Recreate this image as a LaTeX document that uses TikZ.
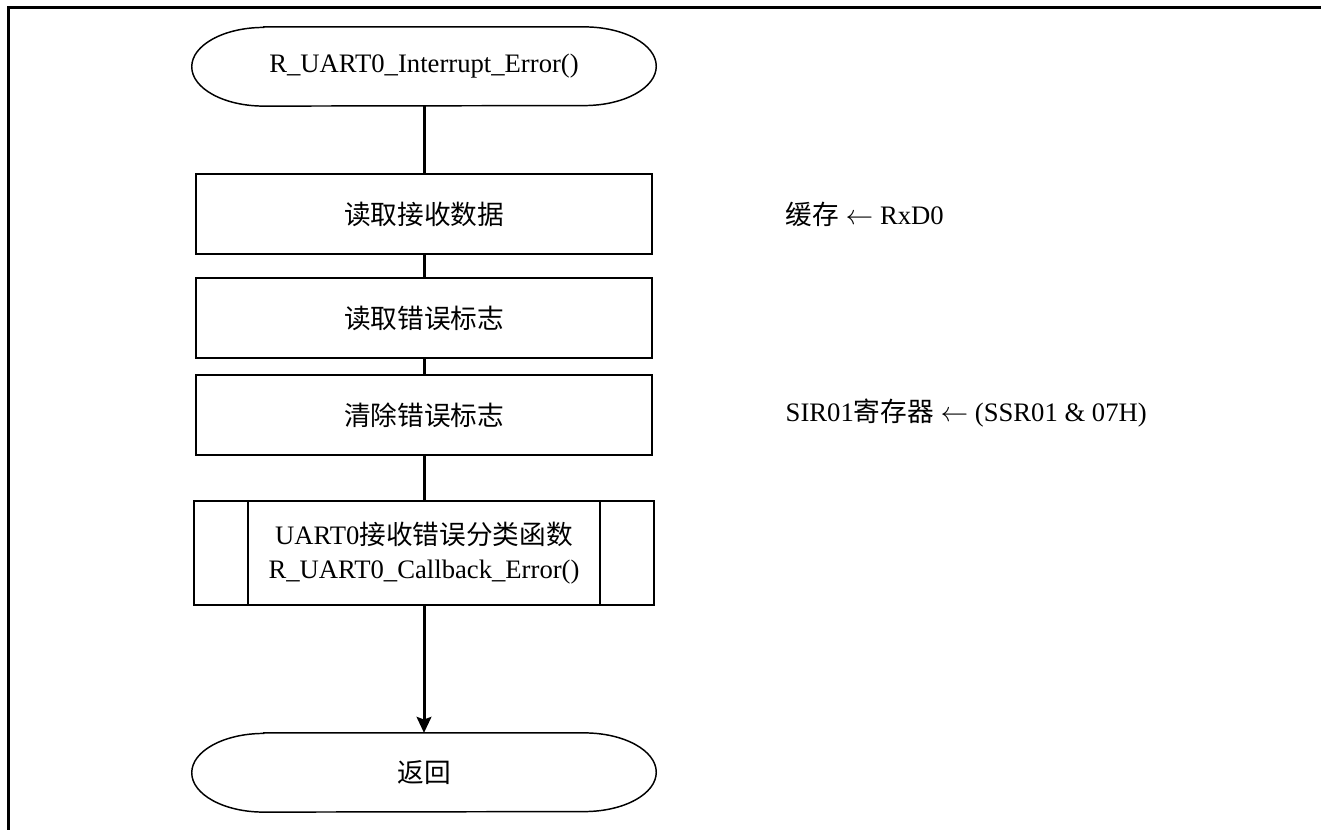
\documentclass[tikz,border=0pt]{standalone}
\usepackage{fontspec}
\setmainfont{Liberation Serif}
\newfontfamily\cjk{Noto Sans CJK SC}
\newcommand{\zh}[1]{{\cjk #1}}
\usetikzlibrary{arrows.meta}

\begin{document}
\begin{tikzpicture}[x=0.75pt, y=0.75pt,
    every node/.style={font=\fontsize{20}{25.5}\selectfont},
    termnode/.style={minimum width=348pt, minimum height=59pt},
    termline/.style={line width=1.1pt},
    procbox/.style={draw, line width=1.5pt, minimum width=342pt, minimum height=60pt},
    subbox/.style={draw, line width=1.5pt, minimum width=345pt, minimum height=78pt, align=center},
    flow/.style={line width=2.25pt}]
    % Page size and frame
    \useasboundingbox (0,0) rectangle (1321,-830);
    \draw[line width=2.25pt] (1321,-8) -- (8,-8) -- (8,-830);

    % Set up flow levels
    \coordinate (lvlstart) at (424,-66.5);
    \coordinate (lvlrx) at (424,-214);
    \coordinate (lvlrd) at (424,-318);
    \coordinate (lvlclr) at (424,-415);
    \coordinate (lvlcall) at (424,-553);
    \coordinate (lvlstop) at (424,-772.5);

    % Draw terminators
    \node[termnode] (start) at (lvlstart) {R\_UART0\_Interrupt\_Error()};
    \node[termnode] (stop) at (lvlstop) {\zh{返回}};
    \foreach \t in {start,stop} {
        \draw[termline] ([xshift=54pt]\t.north west) -- ([xshift=-54pt]\t.north east)
            arc[start angle=90, end angle=-90, x radius=54pt, y radius=29.5pt]
            -- ([xshift=54pt]\t.south west)
            arc[start angle=270, end angle=90, x radius=54pt, y radius=29.5pt] -- cycle;
    }

    % Draw process boxes
    \node[procbox] (rxdata) at (lvlrx) {\zh{读取接收数据}};
    \node[procbox] (rderr) at (lvlrd) {\zh{读取错误标志}};
    \node[procbox] (clrerr) at (lvlclr) {\zh{清除错误标志}};
    \node[subbox] (callback) at (lvlcall) {UART0\zh{接收错误分类函数}\\R\_UART0\_Callback\_Error()};
    \foreach \s/\d in {west/41pt, east/-41pt} {
        \draw[line width=1.5pt] ([xshift=\d]callback.north \s) -- ([xshift=\d]callback.south \s);
    }

    % Side notes
    \node[anchor=west] (bufnote) at (781,-214) {\zh{缓存} $\leftarrow$ RxD0};
    \node[anchor=west] (sirnote) at (781,-413) {SIR01\zh{寄存器} $\leftarrow$ (SSR01 \& 07H)};

    % Draw connections
    \foreach \a/\b in {start/rxdata, rxdata/rderr, rderr/clrerr, clrerr/callback} {
        \draw[flow] (\a) -- (\b);
    }
    \draw[flow, -{Stealth[length=12pt, width=11pt, inset=2pt]}] (callback) -- (stop);
\end{tikzpicture}
\end{document}
